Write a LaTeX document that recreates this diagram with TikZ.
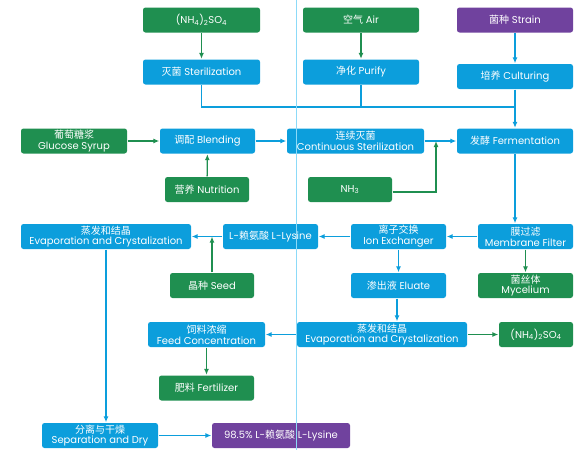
\documentclass[tikz,border=0pt]{standalone}
\usepackage{fontspec}
\setmainfont{Poppins}
\newfontfamily\cjk{Noto Sans CJK SC}
\usepackage{tikz}
\usetikzlibrary{arrows.meta, calc, positioning}
\definecolor{procblue}{RGB}{12,158,220}
\definecolor{feedgreen}{RGB}{31,143,80}
\definecolor{prodpurple}{RGB}{112,66,158}
\newcommand{\zh}[1]{{\cjk #1}}

\begin{document}
\begin{tikzpicture}[x=1pt,y=-1pt,>={Latex[length=6pt,width=5pt]},line width=1.3pt,font=\fontsize{10}{10.8}\selectfont]
	\tikzset{box/.style={rounded corners=2.5pt, text=white, align=center, inner sep=0pt, minimum height=25pt},
		proc/.style={box, fill=procblue}, feed/.style={box, fill=feedgreen}, prod/.style={box, fill=prodpurple},
		bflow/.style={->, draw=procblue}, gflow/.style={->, draw=feedgreen}}
	\useasboundingbox (0,0) rectangle (575,450);
	% raw materials
	\node[feed, minimum width=117pt] (nhtop) at (201.5,20) {(NH\textsubscript{4})\textsubscript{2}SO\textsubscript{4}};
	\node[feed, minimum width=116pt] (air) at (361,20) {\zh{空气} Air};
	\node[prod, minimum width=116pt] (strain) at (515,20) {\zh{菌种} Strain};
	\node[proc, minimum width=117pt] (steril) at (201.5,72) {\zh{灭菌} Sterilization};
	\node[proc, minimum width=116pt] (purify) at (361,72) {\zh{净化} Purify};
	\node[proc, minimum width=116pt] (cultur) at (515,76.5) {\zh{培养} Culturing};
	% fermentation line
	\node[feed, minimum width=106pt] (gluc) at (74,141) {\zh{葡萄糖浆}\\Glucose Syrup};
	\node[proc, minimum width=95pt] (blend) at (207.5,141) {\zh{调配} Blending};
	\node[proc, minimum width=137pt] (contin) at (355.5,141) {\zh{连续灭菌}\\Continuous Sterilization};
	\node[proc, minimum width=116pt] (ferm) at (515,141) {\zh{发酵} Fermentation};
	\node[feed, minimum width=84pt] (nutri) at (207,189.5) {\zh{营养} Nutrition};
	\node[feed, minimum width=84pt] (nh3) at (350,189.5) {NH\textsubscript{3}};
	% separation
	\node[proc, minimum width=170pt] (evapl) at (106,236.5) {\zh{蒸发和结晶}\\Evaporation and Crystalization};
	\node[proc, minimum width=95pt] (lys) at (270.5,236.5) {L-\zh{赖氨酸} L-Lysine};
	\node[proc, minimum width=95pt] (ion) at (398.5,236.5) {\zh{离子交换}\\Ion Exchanger};
	\node[proc, minimum width=95pt] (memb) at (525.5,236.5) {\zh{膜过滤}\\Membrane Filter};
	\node[feed, minimum width=84pt] (seed) at (212,285.5) {\zh{晶种} Seed};
	\node[proc, minimum width=95pt] (elu) at (398.5,285.5) {\zh{渗出液} Eluate};
	\node[feed, minimum width=95pt] (myc) at (525.5,285.5) {\zh{菌丝体}\\Mycelium};
	\node[proc, minimum width=117pt] (feedc) at (206.5,334.5) {\zh{饲料浓缩}\\Feed Concentration};
	\node[proc, minimum width=170pt] (evapr) at (382,334.5) {\zh{蒸发和结晶}\\Evaporation and Crystalization};
	\node[feed, minimum width=74pt] (nhright) at (536,334.5) {(NH\textsubscript{4})\textsubscript{2}SO\textsubscript{4}};
	\node[feed, minimum width=95pt] (fert) at (206.5,388) {\zh{肥料} Fertilizer};
	\node[proc, minimum width=116pt] (sep) at (100,435.5) {\zh{分离与干燥}\\Separation and Dry};
	\node[prod, minimum width=138pt] (prodl) at (281,435.5) {98.5\% L-\zh{赖氨酸} L-Lysine};
	\coordinate (merge) at (515,107);
	\coordinate (nhin) at (436,141);
	\coordinate (seedin) at (212,236.5);
	% connectors
	\draw[gflow] (nhtop) -- (steril);
	\draw[gflow] (air) -- (purify);
	\draw[bflow] (strain) -- (cultur);
	\draw[draw=procblue] (steril.south) |- (merge);
	\draw[draw=procblue] (purify.south) -- (purify.south |- merge);
	\draw[bflow] (cultur) -- (ferm);
	\draw[gflow] (gluc) -- (blend);
	\draw[bflow] (blend) -- (contin);
	\draw[bflow] (contin) -- (ferm);
	\draw[gflow] (nutri) -- (blend);
	\draw[gflow] ([yshift=-2.5pt]nh3.east) -| (nhin);
	\draw[bflow] (ferm.south) -- (ferm.south |- memb.north);
	\draw[bflow] (memb) -- (ion);
	\draw[gflow] (memb) -- (myc);
	\draw[bflow] (ion) -- (lys);
	\draw[bflow] (ion) -- (elu);
	\draw[bflow] (lys) -- (evapl);
	\draw[gflow] (seed) -- (seedin);
	\draw[bflow] ([xshift=-1.5pt]elu.south) -- ([xshift=-1.5pt]elu.south |- evapr.north);
	\draw[bflow] (evapr) -- (feedc);
	\draw[gflow] (evapr) -- (nhright);
	\draw[gflow] (feedc) -- (fert);
	\draw[bflow] (evapl.south) -- (evapl.south |- sep.north);
	\draw[bflow] (sep) -- (prodl);
	% guide line
	\draw[cyan!45, line width=0.8pt] (296,0) -- (296,450);
\end{tikzpicture}
\end{document}
